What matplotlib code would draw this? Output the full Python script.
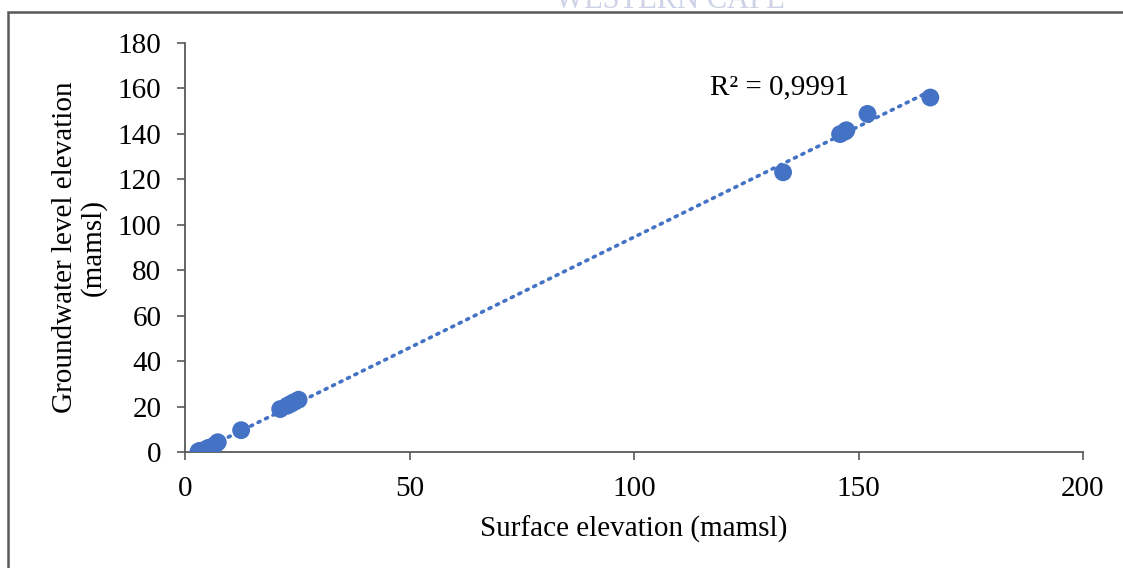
import numpy as np
import matplotlib.pyplot as plt
from matplotlib.patches import Rectangle

# surface elevation vs groundwater level (mamsl)
surface = [3.0, 3.3, 3.8, 4.2, 4.8, 5.2, 5.6, 6.0, 6.6, 7.3,
           12.5, 21.2, 22.8, 23.6, 24.3, 25.3,
           133.2, 145.9, 147.0, 147.3, 152.0, 166.0]
gw_level = [0.2, 0.5, 0.3, 0.8, 1.2, 1.8, 1.0, 2.2, 3.0, 4.3,
            9.6, 18.9, 20.4, 21.2, 22.0, 23.0,
            123.1, 139.9, 141.0, 141.6, 148.8, 156.0]

xticks = [0, 50, 100, 150, 200]
yticks = [0, 20, 40, 60, 80, 100, 120, 140, 160, 180]

blue = '#4472C4'
grey = '#595959'
fs = 21

plt.rcParams['font.family'] = ['Liberation Serif', 'DejaVu Serif']

fig = plt.figure(figsize=(11.23, 5.68), dpi=100)
ax = fig.add_axes([185/1123, 1 - 452/568, (1083 - 185)/1123, (452 - 43)/568])

# linear trendline
x = np.array(surface)
y = np.array(gw_level)
k, b = np.polyfit(x, y, 1)
xl = np.array([x.min(), x.max()])
ax.plot(xl, k*xl + b, color=blue, lw=2.6, linestyle=(0, (0.6, 1.7)),
        dash_capstyle='round', zorder=2)

ax.scatter(surface, gw_level, s=165, color=blue, edgecolors='none', zorder=3)

ax.set_xlim(0, 200)
ax.set_ylim(0, 180)
ax.set_xticks(xticks)
ax.set_yticks(yticks)
ax.tick_params(labelsize=fs, length=6, width=1.2, color=grey, direction='out')
ax.tick_params(axis='x', pad=11)
ax.tick_params(axis='y', pad=11)
for side in ['top', 'right']:
    ax.spines[side].set_visible(False)
for side in ['left', 'bottom']:
    ax.spines[side].set_color(grey)
    ax.spines[side].set_linewidth(1.3)

ax.set_xlabel('Surface elevation (mamsl)', fontsize=fs, labelpad=10)
ax.set_ylabel('Groundwater level elevation\n(mamsl)', fontsize=fs, labelpad=8,
              linespacing=1.1)

ax.text(117, 160.5, 'R² = 0,9991', fontsize=fs, ha='left', va='center')

# page frame and watermark
fig.patches.append(Rectangle((8/1123, -0.1), 1.2, 1.1 - 12/568, transform=fig.transFigure,
                             fill=False, edgecolor=grey, lw=1.8))
fig.text(670/1123, 1.0, 'WESTERN CAPE', fontsize=22, color='#cdd2e6',
         ha='center', va='center')

fig.savefig('out.png', dpi=100)
